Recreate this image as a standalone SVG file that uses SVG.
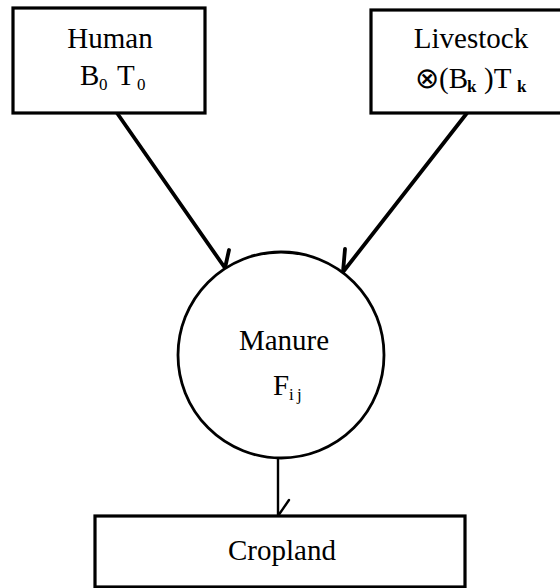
<svg xmlns="http://www.w3.org/2000/svg" width="560" height="588" viewBox="0 0 560 588">
  <style>
    .box { fill: #fff; stroke: #000; stroke-width: 3.2; }
    .node-circle { fill: #fff; stroke: #000; stroke-width: 2.8; }
    .lbl { font-family: "Liberation Serif", "Times New Roman", serif; font-size: 29px; fill: #000; }
    .sub { font-size: 17px; }
    .edge { fill: none; stroke: #000; stroke-width: 3.8; stroke-linecap: round; stroke-linejoin: round; }
    .edge-thin { fill: none; stroke: #000; stroke-width: 2.4; stroke-linecap: round; stroke-linejoin: round; }
  </style>
  <rect width="560" height="588" fill="#fff"/>

  <!-- connectors, each with a single barb at its tip -->
  <g id="connectors">
    <path class="edge" d="M117,113 L225,268 M229,250 L225,268"/>
    <path class="edge" d="M467,113 L343,272 M345,249 L343,272"/>
    <path class="edge-thin" d="M278,458 L278,516 M289,500 L278,516"/>
  </g>

  <g id="human">
    <rect class="box" x="13" y="8" width="192" height="105"/>
    <text class="lbl" x="110" y="48" text-anchor="middle">Human</text>
    <text class="lbl" y="85"><tspan x="80">B</tspan><tspan class="sub" x="99" dy="5">0</tspan><tspan x="117" dy="-5">T</tspan><tspan class="sub" x="137" dy="5">0</tspan></text>
  </g>

  <g id="livestock">
    <rect class="box" x="371" y="10" width="200" height="103"/>
    <text class="lbl" x="471" y="48" text-anchor="middle">Livestock</text>
    <text class="lbl" y="88"><tspan x="415">⊗(B</tspan><tspan class="sub" x="467" dy="4" font-weight="bold">k</tspan><tspan x="484" dy="-4">)T</tspan><tspan class="sub" x="517" dy="4" font-weight="bold">k</tspan></text>
  </g>

  <g id="manure">
    <circle class="node-circle" cx="281" cy="355" r="103"/>
    <text class="lbl" x="284" y="350" text-anchor="middle">Manure</text>
    <text class="lbl" y="395"><tspan x="273">F</tspan><tspan class="sub" x="289" dy="5">i</tspan><tspan class="sub" x="297">j</tspan></text>
  </g>

  <g id="cropland">
    <rect class="box" x="95" y="516" width="370" height="71"/>
    <text class="lbl" x="282" y="560" text-anchor="middle">Cropland</text>
  </g>
</svg>
